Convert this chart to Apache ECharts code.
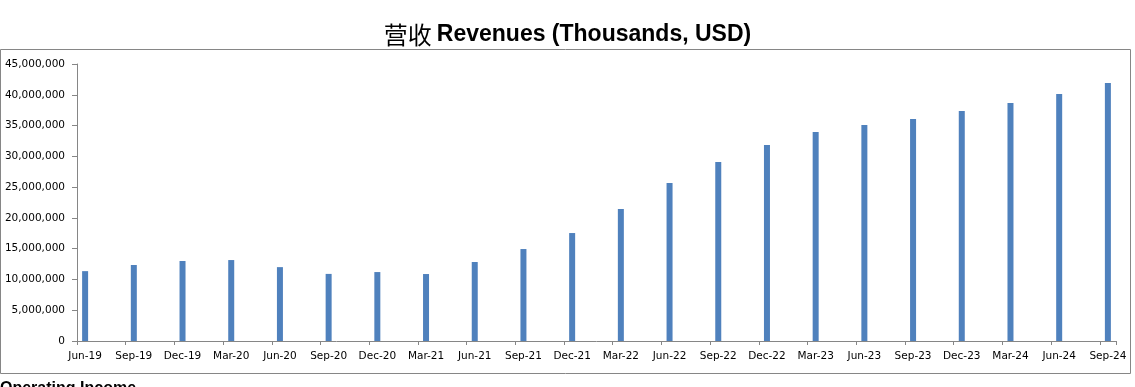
<!DOCTYPE html>
<html>
<head>
<meta charset="utf-8">
<script src="https://cdn.jsdelivr.net/npm/echarts@6/dist/echarts.min.js"></script>
<style>
html,body{margin:0;padding:0;background:#fff;}
#chart{width:1135px;height:387px;}
</style>
</head>
<body>
<div id="chart"></div>
<script>
// Quarter labels and revenue values (thousands USD)
const quarters = ['Jun-19','Sep-19','Dec-19','Mar-20','Jun-20','Sep-20','Dec-20','Mar-21','Jun-21','Sep-21','Dec-21','Mar-22','Jun-22','Sep-22','Dec-22','Mar-23','Jun-23','Sep-23','Dec-23','Mar-24','Jun-24','Sep-24'];
const revenues = [11350000,12350000,13000000,13150000,12000000,10900000,11200000,10880000,12830000,14940000,17540000,21440000,25670000,29080000,31840000,33950000,35090000,36060000,37360000,38660000,40120000,41910000];
const yTicks = {min: 0, max: 45000000, interval: 5000000};
const titleCn = '营收';
const titleEn = 'Revenues (Thousands, USD)';
const nextTitle = 'Operating Income';

// The original uses a monthly date axis: each quarter occupies one month slot, ticks every 3 months.
const slots = [];
const slotValues = [];
quarters.forEach((q, i) => {
  slots.push(q);
  slotValues.push(revenues[i]);
  if (i < quarters.length - 1) {
    slots.push('_a' + i, '_b' + i);
    slotValues.push('-', '-');
  }
});

const chart = echarts.init(document.getElementById('chart'), null, {renderer: 'canvas'});
const axisGray = '#868686';
chart.setOption({
  animation: false,
  backgroundColor: '#ffffff',
  title: {
    text: '{cn|' + titleCn + '} {en|' + titleEn + '}',
    left: 'center',
    top: 16,
    textStyle: {
      rich: {
        cn: {fontFamily: 'Noto Sans CJK SC', fontSize: 24, fontWeight: 'normal', color: '#000', lineHeight: 28},
        en: {fontFamily: 'Liberation Sans', fontSize: 23, fontWeight: 'bold', color: '#000', lineHeight: 28}
      }
    }
  },
  grid: {left: 77, right: 19, top: 64, bottom: 46},
  xAxis: {
    type: 'category',
    data: slots,
    boundaryGap: true,
    axisLine: {show: true, lineStyle: {color: axisGray, width: 1}},
    axisTick: {show: true, interval: 2, length: 4, lineStyle: {color: axisGray}},
    axisLabel: {
      interval: 2,
      margin: 10,
      fontFamily: 'DejaVu Sans',
      fontSize: 10.5,
      color: '#000'
    },
    splitLine: {show: false}
  },
  yAxis: {
    type: 'value',
    min: yTicks.min,
    max: yTicks.max,
    interval: yTicks.interval,
    axisLine: {show: true, lineStyle: {color: axisGray, width: 1}},
    axisTick: {show: true, length: 5, lineStyle: {color: axisGray}},
    axisLabel: {
      margin: 12,
      fontFamily: 'DejaVu Sans',
      fontSize: 10.5,
      color: '#000',
      formatter: v => v.toLocaleString('en-US')
    },
    splitLine: {show: false}
  },
  series: [{
    type: 'bar',
    data: slotValues,
    barWidth: 6,
    itemStyle: {color: '#4F81BD'}
  }],
  graphic: [
    {
      type: 'rect',
      shape: {x: 0.5, y: 49.5, width: 1130, height: 324},
      style: {fill: 'none', stroke: axisGray, lineWidth: 1},
      silent: true
    },
    {
      type: 'text',
      left: 0,
      top: 381,
      style: {text: nextTitle, fontFamily: 'Liberation Sans', fontSize: 16, fontWeight: 'bold', fill: '#000'},
      silent: true
    }
  ]
});
</script>
</body>
</html>
